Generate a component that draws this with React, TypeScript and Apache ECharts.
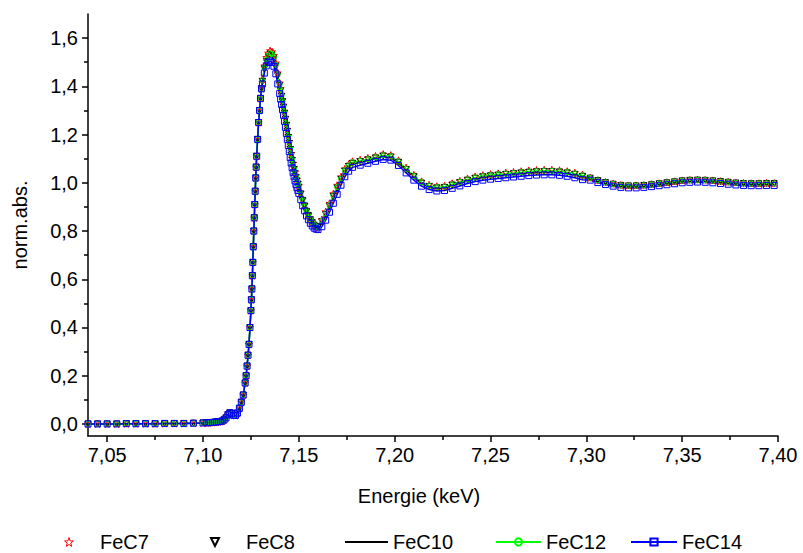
import React, { useEffect, useRef } from 'react';
import * as echarts from 'echarts';

// Energy axis (keV)
const energy = [
  7.040, 7.045, 7.050, 7.055, 7.060, 7.065, 7.070, 7.075, 7.080, 7.085, 7.090, 7.095, 7.100,
  7.102, 7.103, 7.104, 7.105, 7.106, 7.107, 7.108, 7.109, 7.110, 7.111, 7.112,
  7.113, 7.114, 7.115, 7.116, 7.117, 7.118, 7.119, 7.120, 7.121,
  7.122, 7.1225, 7.123, 7.1235, 7.124, 7.1245, 7.125, 7.12525, 7.1255, 7.12575, 7.126, 7.12625, 7.1265, 7.12675,
  7.127, 7.12725, 7.1275, 7.12775, 7.128, 7.1285, 7.129, 7.1295, 7.130, 7.1305,
  7.131, 7.132, 7.133, 7.134, 7.135, 7.136, 7.137, 7.138, 7.139, 7.140,
  7.1405, 7.141, 7.1415, 7.142, 7.1425, 7.143, 7.1435, 7.144, 7.1445, 7.145,
  7.1455, 7.146, 7.1465, 7.147, 7.1475, 7.148, 7.1485, 7.149, 7.1495, 7.150,
  7.151, 7.152, 7.153, 7.154, 7.155, 7.156, 7.157, 7.158, 7.159, 7.160,
  7.162, 7.164, 7.166, 7.168, 7.170, 7.172, 7.174, 7.176, 7.178,
  7.182, 7.186, 7.190, 7.194, 7.198, 7.202, 7.206, 7.210, 7.214, 7.218,
  7.222, 7.226, 7.230, 7.234, 7.238, 7.242, 7.246, 7.250, 7.254, 7.258,
  7.262, 7.266, 7.270, 7.274, 7.278, 7.282, 7.286, 7.290, 7.294, 7.298,
  7.302, 7.306, 7.310, 7.314, 7.318, 7.322, 7.326, 7.330, 7.334, 7.338,
  7.342, 7.346, 7.350, 7.354, 7.358, 7.362, 7.366, 7.370, 7.374, 7.378,
  7.382, 7.386, 7.390, 7.394, 7.398,
];

// Pre-edge and rising edge: the five samples coincide here
const risingEdge = [
  0, 0, 0, 0, 0.001, 0.001, 0.001, 0.001, 0.002, 0.002, 0.002, 0.003, 0.004,
  0.005, 0.005, 0.006, 0.006, 0.007, 0.008, 0.009, 0.010, 0.012, 0.017, 0.025,
  0.038, 0.046, 0.044, 0.036, 0.035, 0.045, 0.065, 0.09, 0.12,
  0.17, 0.20, 0.24, 0.285, 0.33, 0.40, 0.47, 0.515, 0.56, 0.615, 0.67, 0.735, 0.80, 0.855,
  0.91, 0.965, 1.02, 1.065, 1.11, 1.18, 1.25, 1.30, 1.35, 1.39,
];

const feC7 = [
  ...risingEdge,
  1.43, 1.485, 1.52, 1.538, 1.548, 1.544, 1.528, 1.497, 1.456, 1.414,
  1.391, 1.368, 1.345, 1.322, 1.297, 1.272, 1.247, 1.222, 1.197, 1.172,
  1.147, 1.122, 1.101, 1.081, 1.063, 1.045, 1.029, 1.014, 1.001, 0.988,
  0.96, 0.932, 0.909, 0.886, 0.868, 0.85, 0.838, 0.826, 0.82, 0.816,
  0.848, 0.88, 0.915, 0.955, 0.99, 1.025, 1.058, 1.077, 1.089,
  1.096, 1.103, 1.111, 1.119, 1.115, 1.093, 1.063, 1.033, 1.006, 0.992,
  0.986, 0.988, 0.998, 1.008, 1.018, 1.026, 1.032, 1.036, 1.039, 1.042,
  1.045, 1.048, 1.051, 1.053, 1.054, 1.054, 1.052, 1.048, 1.042, 1.034,
  1.021, 1.011, 1.003, 0.996, 0.991, 0.989, 0.989, 0.991, 0.994, 0.998,
  1.002, 1.006, 1.010, 1.012, 1.013, 1.012, 1.010, 1.007, 1.004, 1.001,
  0.999, 0.998, 0.998, 0.999, 0.999,
];

const feC8 = [
  ...risingEdge,
  1.42, 1.472, 1.503, 1.522, 1.532, 1.528, 1.513, 1.483, 1.443, 1.403,
  1.381, 1.358, 1.336, 1.313, 1.288, 1.263, 1.238, 1.213, 1.188, 1.163,
  1.138, 1.113, 1.093, 1.073, 1.055, 1.038, 1.023, 1.008, 0.995, 0.982,
  0.954, 0.927, 0.904, 0.882, 0.864, 0.847, 0.835, 0.824, 0.818, 0.814,
  0.838, 0.868, 0.903, 0.943, 0.978, 1.013, 1.048, 1.068, 1.081,
  1.088, 1.095, 1.103, 1.111, 1.107, 1.085, 1.055, 1.025, 0.999, 0.985,
  0.979, 0.981, 0.991, 1.001, 1.011, 1.019, 1.025, 1.029, 1.032, 1.035,
  1.038, 1.041, 1.044, 1.046, 1.047, 1.047, 1.045, 1.041, 1.035, 1.027,
  1.019, 1.009, 1.001, 0.994, 0.989, 0.987, 0.987, 0.989, 0.992, 0.996,
  1.000, 1.004, 1.008, 1.010, 1.011, 1.010, 1.008, 1.005, 1.002, 0.999,
  0.997, 0.996, 0.996, 0.997, 0.997,
];

const feC10 = [
  ...risingEdge,
  1.42, 1.47, 1.50, 1.518, 1.528, 1.524, 1.51, 1.48, 1.44, 1.40,
  1.378, 1.355, 1.333, 1.31, 1.285, 1.26, 1.235, 1.21, 1.185, 1.16,
  1.135, 1.11, 1.09, 1.07, 1.052, 1.035, 1.02, 1.005, 0.992, 0.98,
  0.952, 0.925, 0.902, 0.88, 0.862, 0.845, 0.833, 0.822, 0.816, 0.812,
  0.835, 0.865, 0.90, 0.94, 0.975, 1.01, 1.045, 1.065, 1.078,
  1.085, 1.092, 1.100, 1.108, 1.104, 1.082, 1.052, 1.022, 0.996, 0.982,
  0.976, 0.978, 0.988, 0.998, 1.008, 1.016, 1.022, 1.026, 1.029, 1.032,
  1.035, 1.038, 1.041, 1.043, 1.044, 1.044, 1.042, 1.038, 1.032, 1.024,
  1.016, 1.006, 0.998, 0.991, 0.986, 0.984, 0.984, 0.986, 0.989, 0.993,
  0.997, 1.001, 1.005, 1.007, 1.008, 1.007, 1.005, 1.002, 0.999, 0.996,
  0.994, 0.993, 0.993, 0.994, 0.994,
];

const feC12 = [
  ...risingEdge,
  1.425, 1.478, 1.51, 1.528, 1.538, 1.535, 1.52, 1.49, 1.45, 1.409,
  1.387, 1.364, 1.341, 1.318, 1.293, 1.268, 1.243, 1.218, 1.193, 1.168,
  1.143, 1.118, 1.097, 1.077, 1.059, 1.042, 1.026, 1.011, 0.998, 0.985,
  0.957, 0.93, 0.906, 0.884, 0.865, 0.848, 0.836, 0.825, 0.819, 0.815,
  0.843, 0.874, 0.909, 0.948, 0.983, 1.018, 1.052, 1.072, 1.085,
  1.091, 1.098, 1.106, 1.114, 1.110, 1.088, 1.058, 1.028, 1.002, 0.988,
  0.982, 0.984, 0.994, 1.004, 1.014, 1.022, 1.028, 1.032, 1.035, 1.038,
  1.041, 1.044, 1.047, 1.049, 1.050, 1.050, 1.048, 1.044, 1.038, 1.030,
  1.020, 1.010, 1.002, 0.995, 0.990, 0.988, 0.988, 0.990, 0.993, 0.997,
  1.001, 1.005, 1.009, 1.011, 1.012, 1.011, 1.009, 1.006, 1.003, 1.000,
  0.998, 0.997, 0.997, 0.998, 0.998,
];

const feC14 = [
  ...risingEdge,
  1.41, 1.455, 1.485, 1.499, 1.505, 1.499, 1.483, 1.452, 1.41, 1.37,
  1.347, 1.325, 1.303, 1.28, 1.255, 1.23, 1.205, 1.18, 1.155, 1.13,
  1.105, 1.082, 1.062, 1.042, 1.025, 1.008, 0.993, 0.98, 0.968, 0.956,
  0.93, 0.905, 0.884, 0.863, 0.847, 0.832, 0.821, 0.812, 0.808, 0.806,
  0.818, 0.845, 0.878, 0.915, 0.952, 0.99, 1.025, 1.048, 1.064,
  1.073, 1.081, 1.089, 1.097, 1.094, 1.072, 1.041, 1.011, 0.986, 0.972,
  0.966, 0.968, 0.977, 0.987, 0.997, 1.005, 1.011, 1.015, 1.018, 1.021,
  1.024, 1.027, 1.030, 1.032, 1.033, 1.033, 1.031, 1.027, 1.021, 1.013,
  1.011, 1.001, 0.993, 0.986, 0.981, 0.979, 0.979, 0.981, 0.984, 0.988,
  0.992, 0.996, 1.000, 1.002, 1.003, 1.002, 1.000, 0.997, 0.994, 0.991,
  0.989, 0.988, 0.988, 0.989, 0.989,
];

const seriesNames = ['FeC7', 'FeC8', 'FeC10', 'FeC12', 'FeC14'];
const xTicks = [7.05, 7.10, 7.15, 7.20, 7.25, 7.30, 7.35, 7.40];
const yTicks = [0, 0.2, 0.4, 0.6, 0.8, 1.0, 1.2, 1.4, 1.6];

const FONT = '"Liberation Sans", Arial, Helvetica, sans-serif';
const FS = 20;
const STAR =
  'path://M0,-10 L2.35,-3.24 L9.51,-3.09 L3.8,1.24 L5.88,8.09 L0,4 L-5.88,8.09 L-3.8,1.24 L-9.51,-3.09 L-2.35,-3.24 Z';

export default function App() {
  const ref = useRef<HTMLDivElement>(null);

  useEffect(() => {
    document.body.style.margin = '0';
    const chart = echarts.init(ref.current!, null, { renderer: 'svg' });
    const pts = (vals: number[]) => energy.map((e, i) => [e, vals[i]]);
    const clear = 'rgba(0,0,0,0)';

    const legendBase = {
      orient: 'horizontal',
      padding: 0,
      itemGap: 0,
      selectedMode: false,
      textStyle: { fontSize: FS, fontFamily: FONT, color: '#000', padding: [0, 0, 0, 0] },
    };

    const option: any = {
      animation: false,
      backgroundColor: '#fff',
      grid: { left: 88, right: 25, top: 14, bottom: 117, containLabel: false, outerBoundsMode: 'none' },
      xAxis: {
        type: 'value',
        min: 7.04,
        max: 7.40,
        splitNumber: 7,
        name: 'Energie (keV)',
        nameLocation: 'middle',
        nameGap: 50,
        nameTextStyle: { fontSize: FS, fontFamily: FONT, color: '#000', padding: [0, 28, 0, 0] },
        axisLine: { show: true, onZero: false, lineStyle: { color: '#000', width: 1.5 } },
        axisTick: { show: true, inside: false, length: 6, customValues: xTicks, lineStyle: { color: '#000', width: 1.5 } },
        minorTick: { show: true, splitNumber: 2, length: 4, lineStyle: { color: '#000', width: 1.5 } },
        axisLabel: {
          customValues: xTicks,
          margin: 9,
          fontSize: FS,
          fontFamily: FONT,
          color: '#000',
          formatter: (v: number) => v.toFixed(2).replace('.', ','),
        },
        splitLine: { show: false },
      },
      yAxis: {
        type: 'value',
        min: -0.05,
        max: 1.7,
        splitNumber: 9,
        name: 'norm.abs.',
        nameLocation: 'middle',
        nameGap: 58,
        nameTextStyle: { fontSize: FS, fontFamily: FONT, color: '#000' },
        axisLine: { show: true, onZero: false, lineStyle: { color: '#000', width: 1.5 } },
        axisTick: { show: true, inside: false, length: 6, customValues: yTicks, lineStyle: { color: '#000', width: 1.5 } },
        minorTick: { show: true, splitNumber: 2, length: 4, lineStyle: { color: '#000', width: 1.5 } },
        axisLabel: {
          customValues: yTicks,
          margin: 10,
          fontSize: FS,
          fontFamily: FONT,
          color: '#000',
          formatter: (v: number) => v.toFixed(1).replace('.', ','),
        },
        splitLine: { show: false },
      },
      legend: [
        {
          ...legendBase,
          data: [{ name: 'FeC7', itemStyle: { color: '#fff', borderColor: '#ff0000', borderWidth: 1 } }],
          left: 43,
          top: 532,
          itemWidth: 52,
          itemHeight: 11,
        },
        { ...legendBase, data: ['FeC8'], left: 189, top: 532, itemWidth: 52, itemHeight: 10 },
        {
          ...legendBase,
          data: [{ name: 'FeC10', icon: 'rect', itemStyle: { color: '#000', borderWidth: 0 } }],
          left: 345,
          top: 532,
          itemWidth: 43,
          itemHeight: 2,
        },
        { ...legendBase, data: ['FeC12'], left: 495, top: 532, itemWidth: 45, itemHeight: 9 },
        { ...legendBase, data: ['FeC14'], left: 630, top: 532, itemWidth: 46, itemHeight: 9 },
      ],
      series: [
        {
          name: seriesNames[0],
          type: 'line',
          data: pts(feC7),
          symbol: STAR,
          symbolSize: 7,
          showSymbol: true,
          itemStyle: { color: clear, borderColor: '#ff0000', borderWidth: 1 },
          lineStyle: { width: 0, color: '#ff0000', opacity: 0 },
        },
        {
          name: seriesNames[1],
          type: 'line',
          data: pts(feC8),
          symbol: 'triangle',
          symbolRotate: 180,
          symbolSize: 6,
          showSymbol: true,
          itemStyle: { color: clear, borderColor: '#000', borderWidth: 1 },
          lineStyle: { width: 0, color: '#000', opacity: 0 },
        },
        {
          name: seriesNames[2],
          type: 'line',
          data: pts(feC10),
          symbol: 'none',
          itemStyle: { color: '#000' },
          lineStyle: { width: 1.5, color: '#000' },
        },
        {
          name: seriesNames[3],
          type: 'line',
          data: pts(feC12),
          symbol: 'circle',
          symbolSize: 5,
          showSymbol: true,
          itemStyle: { color: clear, borderColor: '#00ff00', borderWidth: 1 },
          lineStyle: { width: 1.5, color: '#00ff00' },
        },
        {
          name: seriesNames[4],
          type: 'line',
          data: pts(feC14),
          symbol: 'rect',
          symbolSize: 6,
          showSymbol: true,
          itemStyle: { color: clear, borderColor: '#0000ff', borderWidth: 1 },
          lineStyle: { width: 1.5, color: '#0000ff' },
        },
      ],
    };

    chart.setOption(option);
    return () => chart.dispose();
  }, []);

  return <div ref={ref} style={{ width: 803, height: 553 }} />;
}
